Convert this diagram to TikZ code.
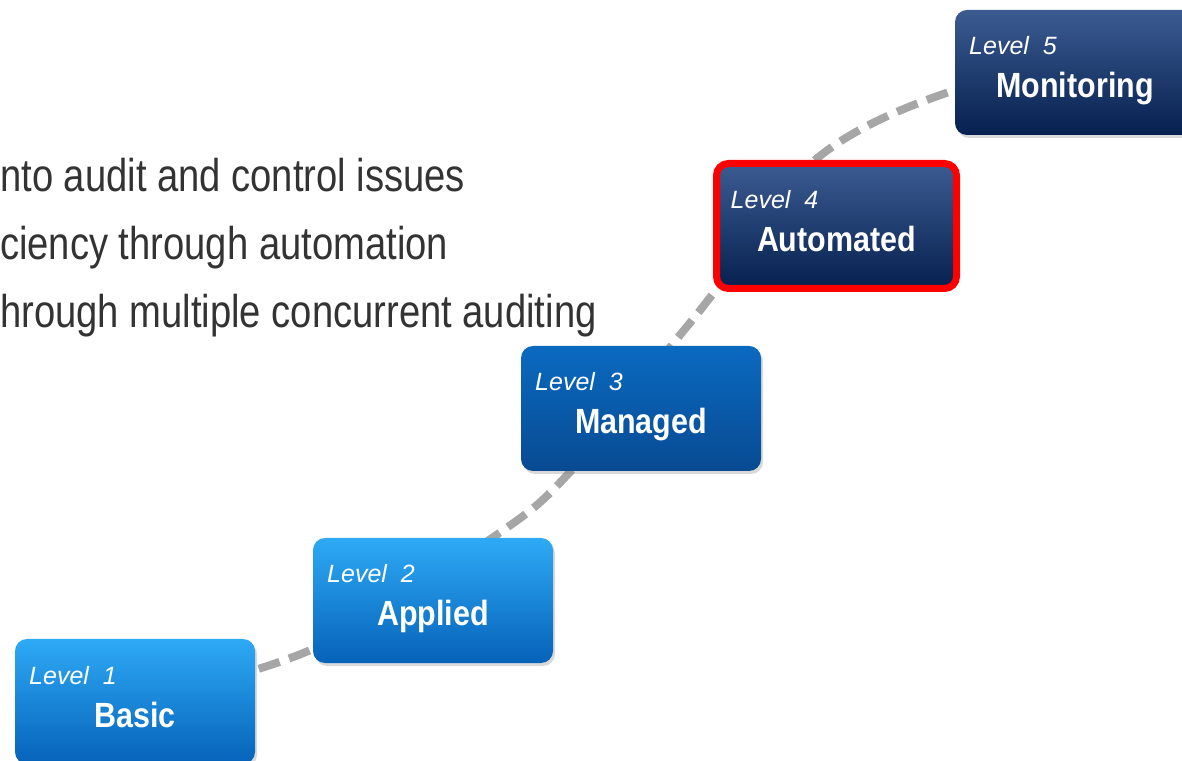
\documentclass[tikz,border=0pt]{standalone}
\usepackage{fontspec}
\setmainfont{Liberation Sans}
\newfontfamily\bodyfont[FakeStretch=0.83]{Liberation Sans}
\newfontfamily\namefont[FakeStretch=0.87]{Liberation Sans}
\usetikzlibrary{shadows, backgrounds, calc}

\definecolor{lightTop}{RGB}{46,170,245}
\definecolor{lightBot}{RGB}{6,98,185}
\definecolor{midTop}{RGB}{10,106,192}
\definecolor{midBot}{RGB}{8,74,146}
\definecolor{darkTop}{RGB}{59,91,145}
\definecolor{darkBot}{RGB}{6,32,79}
\definecolor{focusRed}{RGB}{255,0,0}
\definecolor{pathGray}{RGB}{166,166,166}
\definecolor{bodyGray}{RGB}{51,51,51}

\begin{document}
\begin{tikzpicture}[
        x=1pt, y=1pt,
        level box/.style={
            rectangle,
            rounded corners=12pt,
            minimum width=240pt,
            minimum height=125pt,
            inner sep=0pt,
            outer sep=0pt,
            drop shadow={shadow xshift=2pt, shadow yshift=-3pt, opacity=0.3}
        },
        light box/.style={level box, top color=lightTop, bottom color=lightBot},
        mid box/.style={level box, top color=midTop, bottom color=midBot},
        dark box/.style={level box, top color=darkTop, bottom color=darkBot},
        focus box/.style={dark box, draw=focusRed, line width=7pt},
        level text/.style={
            anchor=base west,
            inner sep=0pt,
            text=white,
            font=\fontsize{25}{30}\selectfont\itshape
        },
        name text/.style={
            anchor=base,
            inner sep=0pt,
            text=white,
            font=\namefont\bfseries\fontsize{35}{42}\selectfont
        },
        body text/.style={
            anchor=base west,
            inner sep=0pt,
            text=bodyGray,
            font=\bodyfont\fontsize{46}{55}\selectfont
        },
        path line/.style={draw=pathGray, line width=8pt, dash pattern=on 22pt off 10pt}
    ]

    \useasboundingbox (0,0) rectangle (1182,760);
    \clip (0,0) rectangle (1182,760);

    % text left of the steps
    \node[body text] (row1) at (0,568) {nto audit and control issues};
    \node[body text] (row2) at (0,500) {ciency through automation};
    \node[body text] (row3) at (0,432) {hrough multiple concurrent auditing};

    % level boxes
    \foreach \i/\x/\y/\lbl/\sty in {1/135/58.5/Basic/light box,
                                    2/433/159.5/Applied/light box,
                                    3/641/351.5/Managed/mid box,
                                    4/836.5/534/Automated/focus box,
                                    5/1075/687.5/Monitoring/dark box} {
        \node[\sty] (L\i) at (\x,\y) {};
        \node[level text] (L\i lvl) at ([xshift=14pt,yshift=-45pt]L\i.north west) {Level\ \ \i};
        \node[name text] (L\i name) at ([yshift=-88pt]L\i.north) {\lbl};
    }

    % dashed path behind the boxes
    \coordinate (w1) at (315,112);
    \coordinate (w2) at (492,222);
    \coordinate (w3) at (570,288);
    \coordinate (w4) at (672,415);
    \coordinate (w5) at (712,465);
    \coordinate (w6) at (815,600);
    \coordinate (w7) at (955,670);
    \begin{scope}[on background layer]
        \draw[path line] plot[smooth, tension=0.6] coordinates
            {(L1.center) (w1) (w2) (w3) (w4) (w5) (w6) (w7) (L5.center)};
    \end{scope}

\end{tikzpicture}
\end{document}
